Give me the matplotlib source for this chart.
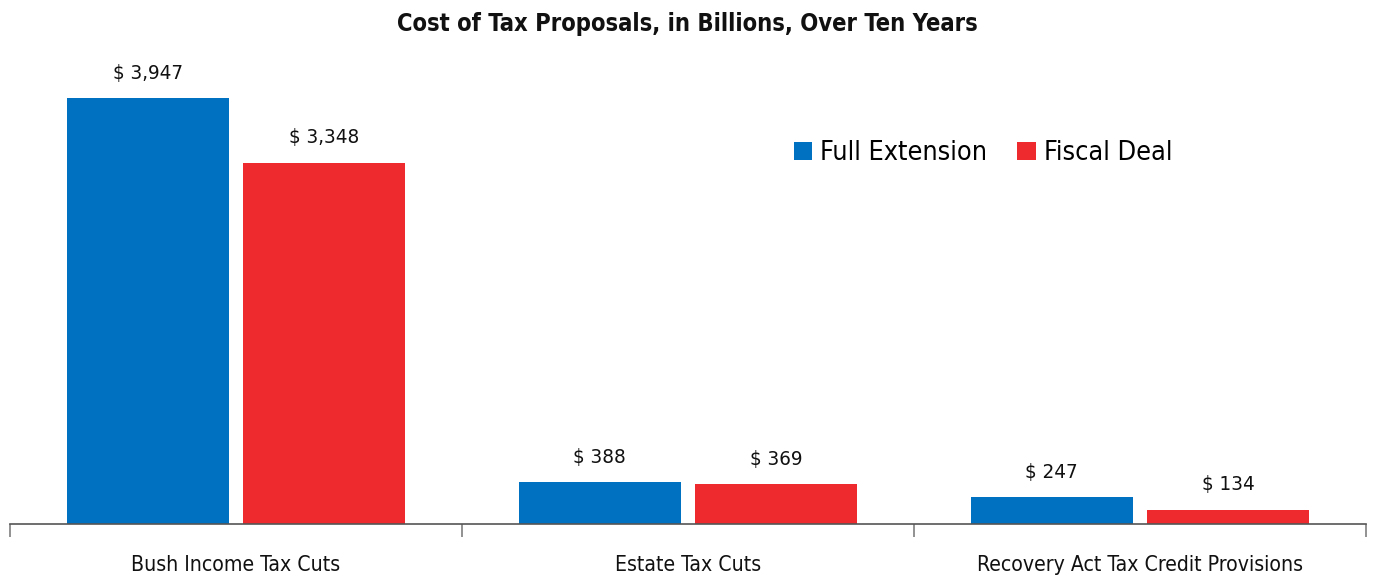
# grouped bar chart: cost of tax proposals over ten years
import numpy as np
import matplotlib.pyplot as plt
from matplotlib import font_manager

names = set((f.name, f.stretch) for f in font_manager.fontManager.ttflist)
if any(n == 'Liberation Sans Narrow' for n, s in names):
    plt.rcParams['font.family'] = ['Liberation Sans Narrow', 'DejaVu Sans']
    scale = 1.0
elif ('DejaVu Sans', 'condensed') in names or ('DejaVu Sans', 'semi-condensed') in names:
    plt.rcParams['font.family'] = ['DejaVu Sans']
    plt.rcParams['font.stretch'] = 'condensed'
    scale = 0.92
else:
    plt.rcParams['font.family'] = ['Liberation Sans', 'DejaVu Sans']
    scale = 0.85

categories = ['Bush Income Tax Cuts', 'Estate Tax Cuts', 'Recovery Act Tax Credit Provisions']
full_extension = [3947, 388, 247]
fiscal_deal = [3348, 369, 134]

blue = '#0070C0'
red = '#EE2A2F'

fig = plt.figure(figsize=(13.74, 5.78), dpi=100)
ax = fig.add_axes([10/1374, 54/578, 1356/1374, 464/578])

x = np.arange(len(categories))
w = 0.358
gap = 0.033
b1 = ax.bar(x - (w + gap)/2, full_extension, w, color=blue, label='Full Extension')
b2 = ax.bar(x + (w + gap)/2, fiscal_deal, w, color=red, label='Fiscal Deal')

for bars in (b1, b2):
    for rect in bars:
        v = rect.get_height()
        ax.annotate('$ {:,}'.format(int(v)), (rect.get_x() + rect.get_width()/2, v),
                    xytext=(0, 11), textcoords='offset points', ha='center', va='bottom',
                    fontsize=16*scale, color='#111111')

ax.set_xlim(-0.5, 2.5)
ax.set_ylim(0, 4300)
ax.set_yticks([])
ax.set_xticks([-0.5, 0.5, 1.5, 2.5])
ax.set_xticklabels([])
ax.set_xticks(x, minor=True)
ax.set_xticklabels(categories, minor=True, fontsize=16.5*scale, color='#111111')
ax.tick_params(axis='x', which='major', length=9, color='#7f7f7f', width=1.2)
ax.tick_params(axis='x', which='minor', length=0, pad=22)
for s in ['top', 'right', 'left']:
    ax.spines[s].set_visible(False)
ax.spines['bottom'].set_color('#555555')
ax.spines['bottom'].set_linewidth(1.2)

ax.legend(loc='upper left', bbox_to_anchor=(0.57, 0.85), ncol=2, frameon=False,
          fontsize=21*scale, handlelength=0.7, handleheight=0.7, handletextpad=0.3,
          columnspacing=1.1, borderaxespad=0)

fig.suptitle('Cost of Tax Proposals, in Billions, Over Ten Years', y=0.98,
             fontsize=18.5*scale, fontweight='bold', color='#111111')

fig.savefig('out.png', dpi=100)
